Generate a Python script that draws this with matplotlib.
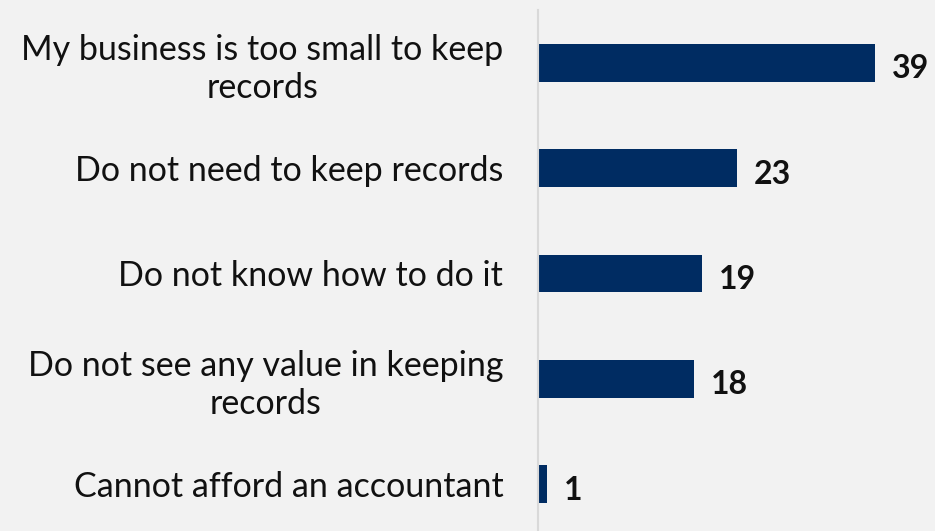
import matplotlib
matplotlib.use("Agg")
import matplotlib.pyplot as plt

categories = [
    "My business is too small to keep\nrecords",
    "Do not need to keep records",
    "Do not know how to do it",
    "Do not see any value in keeping\nrecords",
    "Cannot afford an accountant",
]
values = [39, 23, 19, 18, 1]

BG = "#f2f2f2"
BAR = "#002c62"

plt.rcParams["font.family"] = ["Lato", "DejaVu Sans"]

fig = plt.figure(figsize=(9.35, 5.31), dpi=100, facecolor=BG)
ax = fig.add_axes([538 / 935, 1 - 537 / 531, 1 - 538 / 935, 527 / 531])
ax.set_facecolor(BG)

y = list(range(len(categories)))
ax.barh(y, values, height=0.36, color=BAR, zorder=2)
ax.set_ylim(len(categories) - 0.5, -0.5)
ax.set_xlim(0, 45.95)

ax.set_yticks(y)
ax.set_yticklabels(categories, fontsize=24.5, multialignment="center",
                   linespacing=1.25, color="#111111")
ax.tick_params(axis="y", length=0, pad=25)
ax.set_xticks([])

for s in ["top", "right", "bottom"]:
    ax.spines[s].set_visible(False)
ax.spines["left"].set_color("#d9d9d9")
ax.spines["left"].set_linewidth(1.5)

for yi, v in zip(y, values):
    ax.annotate(str(v), xy=(v, yi), xytext=(17, -6), textcoords="offset pixels",
                ha="left", va="center", fontsize=23, fontweight="bold", color="#111111")

fig.savefig("out.png", dpi=100, facecolor=BG)
